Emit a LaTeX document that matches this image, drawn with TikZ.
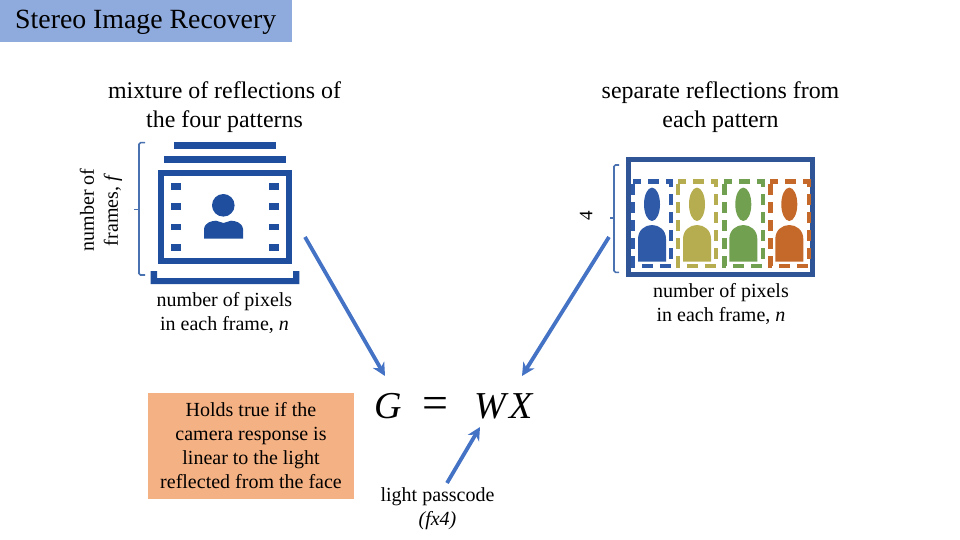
\documentclass[tikz,border=0pt]{standalone}
\usepackage{fontspec}
\usetikzlibrary{arrows.meta}
\setmainfont{Liberation Serif}
\begin{document}
\begin{tikzpicture}[x=1pt, y=-1pt,
  heading/.style={font=\fontsize{23.9}{29}\selectfont, align=center},
  small/.style={font=\fontsize{20}{24}\selectfont, align=center},
  bracket/.style={line width=1.6pt, draw=bracketc, rounded corners=1.5pt},
  arrowline/.style={-{Stealth[length=13pt, width=13pt]}, line width=3.8pt, draw=arrowc},
  icon/.style={fill=iconb},
  slot/.style={line width=4.2pt, dash pattern=on 11pt off 7pt, dash phase=-3pt}]
  \definecolor{iconb}{HTML}{1F4E9E}
  \definecolor{framec}{HTML}{2F5597}
  \definecolor{bracketc}{HTML}{4A72B0}
  \definecolor{arrowc}{HTML}{4472C4}
  \definecolor{titlec}{HTML}{8FAADC}
  \definecolor{notec}{HTML}{F4B183}
  \definecolor{pblue}{HTML}{2E5AA8}
  \definecolor{pyellow}{HTML}{B5AD4F}
  \definecolor{pgreen}{HTML}{70A050}
  \definecolor{porange}{HTML}{C5692A}
  \useasboundingbox (0, 0) rectangle (960, 540);
  % Title
  \fill[titlec] (0, 0) rectangle (292, 42);
  \node[font=\fontsize{27.8}{30}\selectfont, anchor=west] (title) at (11.7, 22) {Stereo Image Recovery};
  % Headings
  \node[heading] (mixture) at (224.5, 107) {mixture of reflections of\\the four patterns};
  \node[heading] (separate) at (720.5, 107) {separate reflections from\\each pattern};
  % Frame stack on the left
  \fill[icon] (174, 142) rectangle (276, 149);
  \fill[icon] (164, 156) rectangle (285.5, 163);
  \draw[iconb, line width=6.2pt] (160.8, 173) rectangle (289.2, 261);
  \fill[icon] (150.7, 271) -- (157, 271) -- (157, 278) -- (293, 278) -- (293, 271) --
  (299.3, 271) -- (299.3, 284) -- (150.7, 284) -- cycle;
  \foreach \y/\h in {182.7/7.3, 202.7/7.3, 224/6, 244/6.7} {
    \fill[icon] (170.7, \y) rectangle +(10.3, \h);
    \fill[icon] (269, \y) rectangle +(10.3, \h);
  }
  \fill[icon] (223.3, 205.3) circle (11.3pt);
  \fill[icon] (204, 238.7) -- (204, 229) .. controls (205, 222) and (212, 221) .. (216, 220.7) --
  (223.5, 223) -- (231, 220.7) .. controls (235, 221) and (242, 222) .. (243, 229) --
  (243, 238.7) -- cycle;
  \draw[bracket] (145, 142.7) -- (139, 142.7) -- (139, 275) -- (145, 275);
  \draw[bracketc, line width=1.6pt] (139, 209.3) -- (134, 209.3);
  \node[small, rotate=90] (frames) at (101, 210) {number of\\frames, \textit{f}};
  \node[small] (pixelsl) at (224.5, 313) {number of pixels\\in each frame, \textit{n}};
  % Four patterns on the right
  \draw[framec, line width=5pt] (628.5, 159.8) rectangle (812, 274);
  \foreach \x/\col in {631/pblue, 676/pyellow, 722.3/pgreen, 768.3/porange} {
    \draw[\col, slot] (\x+2.1, 181.4) rectangle +(38.2, 84.2);
    \fill[\col] (\x+21, 204.3) ellipse (8pt and 16.7pt);
    \fill[\col] (\x+7, 261.7) -- (\x+7, 239) .. controls (\x+7, 230) and (\x+14, 225) ..
    (\x+21, 225) .. controls (\x+28, 225) and (\x+35, 230) .. (\x+35, 239) -- (\x+35, 261.7) -- cycle;
  }
  \draw[bracket] (619, 165) -- (614, 165) -- (614, 272.3) -- (619, 272.3);
  \draw[bracketc, line width=1.6pt] (614, 218) -- (610, 218);
  \node[font=\fontsize{19}{20}\selectfont, rotate=90] (four) at (586, 216) {4};
  \node[small] (pixelsr) at (721, 303.5) {number of pixels\\in each frame, \textit{n}};
  % Equation
  \node[font=\fontsize{38}{40}\selectfont\itshape] (G) at (388, 406) {G};
  \node[font=\fontsize{46}{48}\selectfont] (eq) at (435.5, 408) {=};
  \node[font=\fontsize{38}{40}\selectfont\itshape] (WX) at (503.5, 406) {W\kern3pt X};
  % Note
  \node[small, fill=notec, minimum width=206pt, minimum height=106pt] (note) at (251, 446)
  {Holds true if the\\camera response is\\linear to the light\\reflected from the face};
  \node[small] (passcode) at (437.5, 508.5) {light passcode\\\textit{(fx4)}};
  % Arrows
  \coordinate (fromframes) at (305, 237);
  \coordinate (togl) at (385, 376);
  \coordinate (frompatterns) at (609, 237);
  \coordinate (togr) at (522, 376);
  \coordinate (frompass) at (447, 483);
  \coordinate (tow) at (480, 427);
  \draw[arrowline] (fromframes) -- (togl);
  \draw[arrowline] (frompatterns) -- (togr);
  \draw[arrowline] (frompass) -- (tow);
\end{tikzpicture}
\end{document}
